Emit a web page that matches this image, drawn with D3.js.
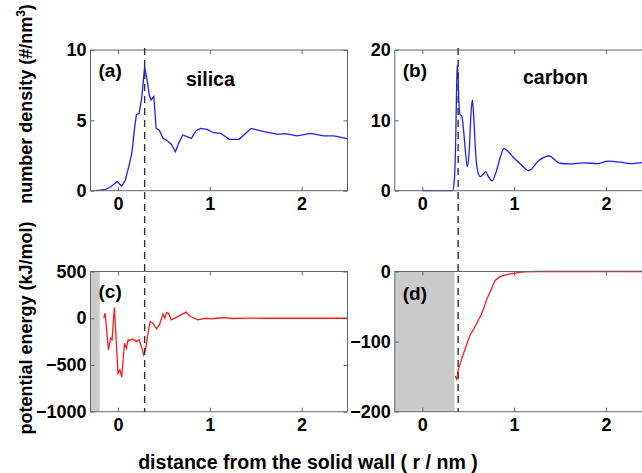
<!DOCTYPE html>
<html>
<head>
<meta charset="utf-8">
<script src="https://cdn.jsdelivr.net/npm/d3@7"></script>
<style>
  body { margin: 0; background: #fff; }
  svg { display: block; font-family: 'Liberation Sans', Arial, sans-serif; font-weight: bold; }
</style>
</head>
<body>
<svg id="chart" width="642" height="473"></svg>
<script>
// silica number density (a)
let silicaX = [-0.24, -0.136, -0.08, -0.01, 0.04, 0.08, 0.12, 0.15, 0.18, 0.2, 0.23, 0.26, 0.29, 0.32, 0.34, 0.36, 0.39, 0.415, 0.45, 0.49, 0.535, 0.58, 0.625, 0.66, 0.705, 0.75, 0.8, 0.85, 0.9, 0.97, 1.04, 1.12, 1.21, 1.32, 1.45, 1.59, 1.74, 1.82, 1.95, 2.1, 2.24, 2.35, 2.5];
let silicaY = [0, 0.1, 0.28, 0.64, 0.33, 0.76, 1.8, 2.66, 4.43, 5.4, 5.5, 6.7, 8.8, 7.75, 6.8, 6.45, 6.7, 4.43, 4.3, 3.72, 3.55, 3.3, 2.77, 3.37, 3.96, 3.84, 3.72, 4.26, 4.43, 4.36, 4.12, 4.08, 3.65, 3.65, 4.43, 4.2, 4.0, 4.05, 3.9, 4.08, 3.9, 3.9, 3.7];

// carbon number density (b)
let carbonX = [0, 0.33, 0.345, 0.36, 0.37, 0.38, 0.39, 0.4, 0.41, 0.43, 0.45, 0.47, 0.49, 0.51, 0.53, 0.545, 0.56, 0.58, 0.6, 0.63, 0.66, 0.69, 0.72, 0.76, 0.8, 0.85, 0.89, 0.94, 0.98, 1.07, 1.16, 1.27, 1.38, 1.5, 1.61, 1.76, 1.91, 2.02, 2.16, 2.27, 2.4, 2.5];
let carbonY = [0, 0, 1, 5, 12, 17.9, 16, 12, 10.9, 10.6, 8.5, 5.5, 3.4, 5.5, 11, 12.9, 10.5, 5.5, 3.0, 2.0, 2.3, 2.7, 2.0, 1.4, 2.5, 4.8, 6.0, 5.5, 4.9, 3.8, 2.85, 4.3, 4.93, 3.9, 3.8, 3.95, 3.85, 4.2, 4.05, 3.85, 4.0, 4.0];

// silica potential energy (c)
let silicaEX = [-0.155, -0.14, -0.105, -0.08, -0.065, -0.04, 0.0, 0.02, 0.04, 0.07, 0.09, 0.11, 0.12, 0.16, 0.2, 0.23, 0.26, 0.28, 0.3, 0.32, 0.35, 0.38, 0.42, 0.45, 0.49, 0.51, 0.53, 0.55, 0.58, 0.65, 0.74, 0.79, 0.87, 0.92, 0.96, 1.01, 1.08, 1.16, 1.25, 1.4, 1.6, 2.0, 2.5];
let silicaEY = [0, 54, -339, -213, -231, 115, -588, -553, -631, -267, -320, -231, -240, -221, -250, -231, -320, -392, -339, -196, -35, -53, -114, -71, 44, 0, 61, 54, -17, 18, 65, 18, -17, -6, 0, -6, 0, 6, -3, 2, 0, 0, 0];

// carbon potential energy (d)
let carbonEX = [0.357, 0.376, 0.39, 0.43, 0.485, 0.52, 0.56, 0.6, 0.64, 0.67, 0.7, 0.74, 0.79, 0.85, 0.96, 1.1, 1.25, 1.5, 2.0, 2.5];
let carbonEY = [-149, -154, -141, -124, -103, -91, -82, -72, -62, -52, -40, -29, -13, -7, -3.3, -0.5, 0, 0, 0, 0];

let xTicks = [0, 1, 2];
let yTicksA = [0, 5, 10];
let yTicksB = [0, 10, 20];
let yTicksC = [-1000, -500, 0, 500];
let yTicksD = [-200, -100, 0];
let panelTags = ['(a)', '(b)', '(c)', '(d)'];
let materials = ['silica', 'carbon'];
let wallPos = [0.29, 0.39];      // dashed lines
let solidEnd = [-0.2, 0.35];     // grey region end in (c) and (d)

const svg = d3.select('#chart');
const cols = [90.5, 394.8];
const rows = [[50, 190.7], [271.5, 411.7]];
const panelW = 257;

function drawPanel(col, row, yDomain, yTicks, xs, ys, color, curve, shadeTo, tag, tagY) {
  const left = cols[col];
  const top = rows[row][0];
  const bottom = rows[row][1];
  const x = d3.scaleLinear().domain([-0.3, 2.5]).range([left, left + panelW]);
  const y = d3.scaleLinear().domain(yDomain).range([bottom, top]);
  const g = svg.append('g');

  if (shadeTo != null) {
    g.append('rect')
      .attr('x', x(-0.3))
      .attr('y', top)
      .attr('width', x(shadeTo) - x(-0.3))
      .attr('height', bottom - top)
      .style('fill', '#cbcbcb');
  }

  const line = d3.line()
    .x((d) => x(d[0]))
    .y((d) => y(d[1]))
    .curve(curve);
  g.append('path')
    .datum(d3.zip(xs, ys))
    .attr('d', line)
    .style('fill', 'none')
    .style('stroke', color)
    .style('stroke-width', 1.3);

  g.append('rect')
    .attr('x', left)
    .attr('y', top)
    .attr('width', panelW)
    .attr('height', bottom - top)
    .style('fill', 'none')
    .style('stroke', '#666')
    .style('stroke-width', 1);

  const axes = [
    [d3.axisBottom(x).tickValues(xTicks), `translate(0,${bottom})`, true],
    [d3.axisTop(x).tickValues(xTicks), `translate(0,${top})`, false],
    [d3.axisLeft(y).tickValues(yTicks), `translate(${left},0)`, true],
    [d3.axisRight(y).tickValues(yTicks), `translate(${left + panelW},0)`, false],
  ];
  axes.forEach(([ax, tr, labels]) => {
    const a = g.append('g')
      .attr('transform', tr)
      .call(ax.tickSizeInner(-4).tickSizeOuter(0).tickPadding(labels ? 7 : 0)
        .tickFormat(labels ? (d) => String(d).replace('-', '\u2212') : ''));
    a.select('.domain').remove();
    a.selectAll('line').style('stroke', '#666');
    a.selectAll('text')
      .style('font-size', '18px')
      .style('font-family', "'Liberation Sans', Arial, sans-serif")
      .style('font-weight', 'bold')
      .style('fill', '#000');
  });
  g.selectAll('text').filter(function () {
    return this.parentNode.parentNode.getAttribute('transform') == `translate(${left},0)`;
  }).attr('x', -4);

  g.append('text')
    .attr('x', left + 8)
    .attr('y', tagY)
    .text(tag)
    .style('font-size', '19px')
    .style('fill', '#000');

  return x;
}

const xa = drawPanel(0, 0, [0, 10], yTicksA, silicaX, silicaY, '#2020ff', d3.curveLinear, null, panelTags[0], 77);
const xb = drawPanel(1, 0, [0, 20], yTicksB, carbonX, carbonY, '#2020ff', d3.curveMonotoneX, null, panelTags[1], 77);
drawPanel(0, 1, [-1000, 500], yTicksC, silicaEX, silicaEY, '#ff1a1a', d3.curveLinear, solidEnd[0], panelTags[2], 298);
drawPanel(1, 1, [-200, 0], yTicksD, carbonEX, carbonEY, '#ff1a1a', d3.curveLinear, solidEnd[1], panelTags[3], 300);

// material names
svg.append('text').attr('x', 186).attr('y', 86).text(materials[0])
  .style('font-size', '19.5px').style('fill', '#000');
svg.append('text').attr('x', 523).attr('y', 84).text(materials[1])
  .style('font-size', '19.5px').style('fill', '#000');

// dashed wall lines spanning both rows
[xa, xb].forEach((sc, i) => {
  svg.append('line')
    .attr('x1', sc(wallPos[i]))
    .attr('x2', sc(wallPos[i]))
    .attr('y1', 48)
    .attr('y2', 412)
    .style('stroke', '#333')
    .style('stroke-width', 1.4)
    .style('stroke-dasharray', '7,5');
});

// axis titles
svg.append('text')
  .attr('x', 308)
  .attr('y', 469)
  .attr('text-anchor', 'middle')
  .text('distance from the solid wall ( r / nm )')
  .style('font-size', '19.6px')
  .style('fill', '#000');

const yl1 = svg.append('text')
  .attr('transform', 'translate(32,104) rotate(-90)')
  .attr('text-anchor', 'middle')
  .style('font-size', '18px')
  .style('fill', '#000');
yl1.append('tspan').text('number density (#/nm');
yl1.append('tspan').text('3').attr('dy', -7).style('font-size', '12px');
yl1.append('tspan').text(')').attr('dy', 7);

svg.append('text')
  .attr('transform', 'translate(32,328) rotate(-90)')
  .attr('text-anchor', 'middle')
  .text('potential energy (kJ/mol)')
  .style('font-size', '18px')
  .style('fill', '#000');
</script>
</body>
</html>
